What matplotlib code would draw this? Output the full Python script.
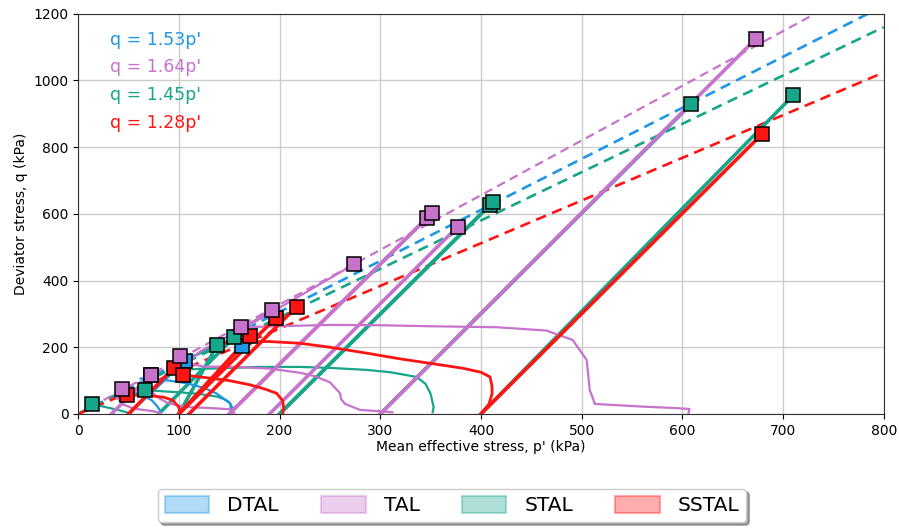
import numpy as np
import matplotlib
matplotlib.use("Agg")
import matplotlib.pyplot as plt
from matplotlib.patches import Patch

# colours
C_DTAL = "#1f96e6"
C_TAL = "#c773cc"
C_STAL = "#17a68a"
C_SSTAL = "#ff1414"

# failure envelopes q = M p'
ENV_M = [1.53, 1.64, 1.45, 1.28]
ENV_LABELS = ["q = 1.53p'", "q = 1.64p'", "q = 1.45p'", "q = 1.28p'"]
ENV_COLORS = [C_DTAL, C_TAL, C_STAL, C_SSTAL]

# ---- DTAL (blue) ----
DTAL_U150_P = [152, 153, 150, 145, 137, 125, 108, 90, 71, 62]
DTAL_U150_Q = [0, 20, 35, 45, 62, 78, 92, 100, 107, 106]
DTAL_U80_P = [82, 81, 78, 73, 66, 58, 52]
DTAL_U80_Q = [0, 12, 25, 41, 52, 63, 72]
DTAL_D_P0 = [300, 50, 100]
DTAL_D_PF = [609, 106, 163]
DTAL_D_QF = [930, 160, 205]

# ---- TAL (purple) ----
TAL_U600_P = [606, 607, 590, 560, 513, 511, 508, 505, 491, 465, 416, 349, 300, 253, 197, 165, 185, 215, 245, 274]
TAL_U600_Q = [0, 15, 18, 22, 30, 48, 72, 162, 222, 250, 260, 263, 266, 267, 263, 260, 292, 345, 398, 449]
TAL_U300_P = [312, 300, 280, 265, 261, 260, 250, 235, 221, 190, 155, 125, 108, 120, 150, 175, 192]
TAL_U300_Q = [5, 8, 12, 30, 45, 62, 95, 113, 123, 136, 141, 142, 152, 185, 235, 280, 312]
TAL_U150_P = [155, 150, 140, 128, 112, 98, 88, 80, 72, 80, 95, 101]
TAL_U150_Q = [3, 14, 16, 18, 20, 26, 34, 48, 68, 95, 140, 174]
TAL_U80_P = [82, 75, 65, 55, 45, 38, 43]
TAL_U80_Q = [2, 8, 12, 16, 28, 50, 74]
TAL_D_P0 = [150, 150, 190, 300, 33]
TAL_D_PF = [346, 351, 377, 673, 72]
TAL_D_QF = [587, 602, 562, 1125, 117]
TAL_FAIL_P = [43, 72, 101, 162, 192, 274]
TAL_FAIL_Q = [74, 117, 174, 262, 312, 449]

# ---- STAL (green) ----
STAL_U350_P = [352, 353, 350, 345, 336, 310, 287, 250, 220, 180, 154, 120, 100, 88, 100, 120, 138]
STAL_U350_Q = [5, 20, 60, 90, 111, 125, 132, 138, 141, 141, 138, 135, 132, 132, 152, 180, 207]
STAL_U150_P = [152, 151, 145, 138, 120, 100, 88, 75, 66]
STAL_U150_Q = [0, 32, 44, 52, 60, 65, 67, 70, 72]
STAL_U50_P = [52, 48, 42, 35, 25, 14]
STAL_U50_Q = [0, 5, 10, 15, 22, 30]
STAL_D_P0 = [200, 200, 300, 400, 80, 100]
STAL_D_PF = [409, 412, 609, 710, 155, 138]
STAL_D_QF = [627, 635, 930, 955, 231, 207]

# ---- SSTAL (red) ----
SSTAL_U400_P = [400, 408, 411, 411, 409, 400, 382, 349, 320, 287, 250, 220, 190, 154, 140]
SSTAL_U400_Q = [0, 30, 60, 82, 111, 125, 137, 152, 165, 182, 200, 212, 217, 217, 214]
SSTAL_U200_P = [203, 204, 203, 197, 185, 171, 150, 121, 104]
SSTAL_U200_Q = [0, 20, 40, 62, 75, 87, 100, 111, 117]
SSTAL_U100_P = [101, 100, 94, 85, 70, 48]
SSTAL_U100_Q = [0, 20, 41, 50, 55, 57]
SSTAL_D_P0 = [400, 100, 100, 110, 50]
SSTAL_D_PF = [679, 171, 196, 217, 95]
SSTAL_D_QF = [839, 234, 287, 322, 138]


def draw_tests(ax, color, undrained, d_p0, d_pf, d_qf, lw_u=1.6, lw_d=2.6):
    for p, q in undrained:
        ax.plot(p, q, color=color, lw=lw_u, zorder=3)
    for p0, pf, qf in zip(d_p0, d_pf, d_qf):
        ax.plot([p0, pf], [0, qf], color=color, lw=lw_d, zorder=3)


fig, ax = plt.subplots(figsize=(8.99, 5.30), dpi=100)
fig.subplots_adjust(left=0.087, right=0.983, top=0.974, bottom=0.219)

# envelopes
p_line = np.array([0, 800])
for m, c in zip(ENV_M, ENV_COLORS):
    lw = 1.6 if c == C_TAL else 1.9
    ax.plot(p_line, m * p_line, ls=(0, (4, 2.5)), color=c, lw=lw, zorder=2)

draw_tests(ax, C_STAL, [(STAL_U350_P, STAL_U350_Q), (STAL_U150_P, STAL_U150_Q),
                        (STAL_U50_P, STAL_U50_Q)],
           STAL_D_P0, STAL_D_PF, STAL_D_QF)
draw_tests(ax, C_DTAL, [(DTAL_U150_P, DTAL_U150_Q), (DTAL_U80_P, DTAL_U80_Q)],
           DTAL_D_P0, DTAL_D_PF, DTAL_D_QF, lw_d=2.2)
draw_tests(ax, C_TAL, [(TAL_U600_P, TAL_U600_Q), (TAL_U300_P, TAL_U300_Q),
                       (TAL_U150_P, TAL_U150_Q), (TAL_U80_P, TAL_U80_Q)],
           TAL_D_P0, TAL_D_PF, TAL_D_QF)
draw_tests(ax, C_SSTAL, [(SSTAL_U400_P, SSTAL_U400_Q), (SSTAL_U200_P, SSTAL_U200_Q),
                         (SSTAL_U100_P, SSTAL_U100_Q)],
           SSTAL_D_P0, SSTAL_D_PF, SSTAL_D_QF, lw_u=2.0)

# failure points
mk = dict(marker="s", ms=10, mec="black", mew=1.1, ls="none", zorder=5)
ax.plot(DTAL_D_PF[1:], DTAL_D_QF[1:], mfc=C_DTAL, **mk)
ax.plot(SSTAL_D_PF + [SSTAL_U200_P[-1], SSTAL_U100_P[-1]],
        SSTAL_D_QF + [SSTAL_U200_Q[-1], SSTAL_U100_Q[-1]], mfc=C_SSTAL, **mk)
ax.plot(STAL_D_PF + [STAL_U150_P[-1], STAL_U50_P[-1]],
        STAL_D_QF + [STAL_U150_Q[-1], STAL_U50_Q[-1]], mfc=C_STAL, **mk)
ax.plot(TAL_D_PF + TAL_FAIL_P, TAL_D_QF + TAL_FAIL_Q, mfc=C_TAL, **mk)

# envelope labels
for i, (txt, c) in enumerate(zip(ENV_LABELS, ENV_COLORS)):
    ax.text(32, 1122 - i * 83, txt, color=c, fontsize=12.5, va="center", ha="left")

ax.set_xlim(0, 800)
ax.set_ylim(0, 1200)
ax.set_xticks(range(0, 801, 100))
ax.set_yticks(range(0, 1201, 200))
ax.tick_params(labelsize=10)
ax.grid(True, color="#cccccc", lw=1.0)
ax.set_axisbelow(True)
for s in ax.spines.values():
    s.set_color("#333333")
ax.set_xlabel("Mean effective stress, p' (kPa)", fontsize=10, labelpad=2)
ax.set_ylabel("Deviator stress, q (kPa)", fontsize=10)

handles = [Patch(facecolor=c, edgecolor=c, alpha=0.35, lw=1.5) for c in
           [C_DTAL, C_TAL, C_STAL, C_SSTAL]]
fig.legend(handles, ["DTAL", "TAL", "STAL", "SSTAL"], loc="center",
           bbox_to_anchor=(0.503, 0.046), ncol=4, fontsize=14.5, shadow=True,
           fancybox=True, handlelength=2.2, handleheight=0.9,
           handletextpad=0.9, columnspacing=2.1, framealpha=1,
           borderpad=0.35)

fig.savefig("out.png", dpi=100)
